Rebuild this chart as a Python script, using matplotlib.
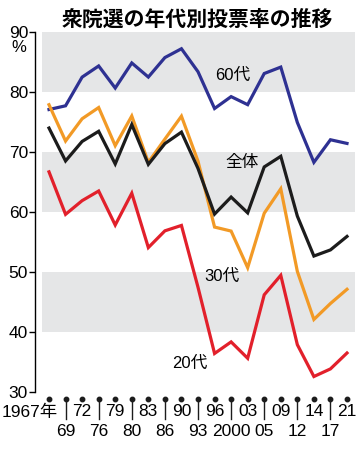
import matplotlib
matplotlib.use("Agg")
import matplotlib.pyplot as plt
import matplotlib.transforms as mtransforms
from matplotlib import font_manager

years = ["1967年", "69", "72", "76", "79", "80", "83", "86", "90", "93", "96",
         "2000", "03", "05", "09", "12", "14", "17", "21"]
age60 = [77.08, 77.70, 82.48, 84.34, 80.66, 84.84, 82.49, 85.74, 87.21, 83.38,
         77.25, 79.23, 77.89, 83.08, 84.15, 74.93, 68.28, 72.04, 71.43]
total = [73.99, 68.51, 71.76, 73.45, 68.01, 74.57, 67.94, 71.40, 73.31, 67.26,
         59.65, 62.49, 59.86, 67.51, 69.28, 59.32, 52.66, 53.68, 55.93]
age30 = [77.88, 71.83, 75.54, 77.41, 71.06, 76.00, 68.27, 72.15, 75.97, 68.46,
         57.49, 56.82, 50.72, 59.79, 63.87, 50.10, 42.09, 44.75, 47.12]
age20 = [66.69, 59.61, 61.89, 63.50, 57.83, 63.13, 54.07, 56.86, 57.76, 47.46,
         36.42, 38.35, 35.62, 46.20, 49.45, 37.89, 32.58, 33.85, 36.50]
yticks = [30, 40, 50, 60, 70, 80, 90]
bands = [(80, 90), (60, 70), (40, 50)]

names = {f.name for f in font_manager.fontManager.ttflist}
num_font = "Liberation Sans Narrow" if "Liberation Sans Narrow" in names else "Liberation Sans"
fam = [num_font, "Noto Sans CJK JP"]
cjk = ["Noto Sans CJK JP", "DejaVu Sans"]

BLUE = "#2e3192"
ORANGE = "#f29a26"
BLACK = "#1c1c1c"
RED = "#e2202b"
GRAY = "#e5e6e7"

W, H = 362, 450
fig = plt.figure(figsize=(W / 100, H / 100), dpi=100)
ax_left, ax_right, ax_top, ax_bot = 35, 355, 32, 392
ax = fig.add_axes([ax_left / W, (H - ax_bot) / H, (ax_right - ax_left) / W, (ax_bot - ax_top) / H])

x0px, x1px = 49, 347
n = len(years)
sp = (x1px - x0px) / (n - 1)
ax.set_xlim(-(x0px - ax_left) / sp, (n - 1) + (ax_right - x1px) / sp)
ax.set_ylim(30, 90)

for lo, hi in bands:
    ax.axhspan(lo, hi, xmin=(42 - ax_left) / (ax_right - ax_left), xmax=1, color=GRAY, lw=0, zorder=0)

xs = list(range(n))
for data, col in [(age60, BLUE), (age30, ORANGE), (total, BLACK), (age20, RED)]:
    ax.plot(xs, data, color=col, lw=2.3, solid_joinstyle="miter", zorder=3)

for s in ["top", "right", "bottom"]:
    ax.spines[s].set_visible(False)
ax.spines["left"].set_linewidth(1.0)
ax.set_yticks(yticks)
ax.set_yticklabels([str(t) for t in yticks], fontfamily=fam, fontsize=12.5)
ax.tick_params(axis="y", direction="out", length=4, width=1, pad=1)
ax.set_xticks([])
fig.text(19 / W, 1 - 48 / H, "%", ha="center", va="center", fontsize=12, family=fam)

trans = mtransforms.blended_transform_factory(ax.transData, ax.transAxes)
hpx = ax_bot - ax_top
def ay(py):
    return (ax_bot - py) / hpx

ax.plot(xs, [ay(399)] * n, "o", color=BLACK, ms=3.2, transform=trans, clip_on=False)
for i, lab in enumerate(years):
    if i % 2 == 0:
        if i == 0:
            ax.text(i + 0.55, ay(412), lab, transform=trans, ha="right", va="center",
                    fontsize=12.5, family=fam)
        else:
            ax.text(i, ay(412), lab, transform=trans, ha="center", va="center",
                    fontsize=12.5, family=fam)
    else:
        ax.plot([i, i], [ay(399), ay(419)], color=BLACK, lw=1.0, transform=trans, clip_on=False)
        ax.text(i, ay(432), lab, transform=trans, ha="center", va="center",
                fontsize=12.5, family=fam)

def lab_at(px, py, s):
    ax.text((px - x0px) / sp, 30 + (ax_bot - py) / hpx * 60, s, ha="center", va="center",
            fontsize=12, family=fam, zorder=5)

lab_at(233, 75, "60代")
lab_at(242, 162, "全体")
lab_at(222, 276, "30代")
lab_at(190, 363, "20代")

fig.text(197 / W, 1 - 19 / H, "衆院選の年代別投票率の推移", ha="center", va="center",
         fontsize=15, family=cjk, fontweight="bold")

fig.savefig("out.png", dpi=100)
